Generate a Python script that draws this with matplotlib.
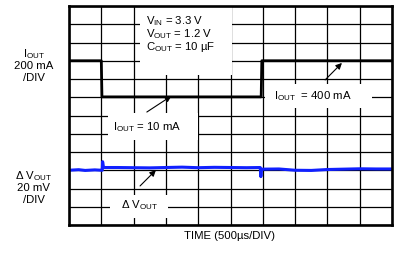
"""
Load transient scope capture: I_OUT step and Delta V_OUT
"""

import matplotlib
matplotlib.use("Agg")
import matplotlib.pyplot as plt
from matplotlib.patches import Rectangle

plt.rcParams["font.family"] = ["Liberation Sans", "DejaVu Sans"]
plt.rcParams["mathtext.default"] = "regular"

# ----------------------------------------------------
# Data (divisions: x 0..10, y 0..12)
# ----------------------------------------------------

t_iout = [0.0, 1.0, 1.02, 5.95, 5.97, 10.0]
iout = [9.0, 9.0, 7.02, 7.02, 9.0, 9.0]

t_vout = [0.0, 0.3, 0.5, 0.8, 1.0, 1.03, 1.04, 1.07, 1.5, 2.0, 2.5,
          3.0, 3.5, 4.0, 4.5, 5.0, 5.5, 5.92, 5.94, 5.96, 6.0, 6.5,
          7.0, 7.5, 8.0, 8.5, 9.0, 9.5, 10.0]
vout = [3.0, 3.03, 2.99, 3.02, 3.0, 3.0, 3.47, 3.15, 3.15, 3.14, 3.13,
        3.15, 3.17, 3.14, 3.16, 3.15, 3.14, 3.15, 2.65, 3.05, 3.06, 3.07,
        3.0, 2.99, 3.04, 3.06, 3.08, 3.07, 3.07]

n_xdiv = 10
n_ydiv = 12

# ----------------------------------------------------
# Figure
# ----------------------------------------------------

fig = plt.figure(figsize=(4.06, 2.66), dpi=100)
ax = fig.add_axes([69 / 406, 41 / 266, 323 / 406, 219 / 266])

ax.set_xlim(0, n_xdiv)
ax.set_ylim(0, n_ydiv)
ax.set_xticks(range(n_xdiv + 1))
ax.set_yticks(range(n_ydiv + 1))
ax.tick_params(length=0, labelbottom=False, labelleft=False)
ax.set_axisbelow(True)
ax.grid(color="black", lw=0.9)

for s in ax.spines.values():
    s.set_linewidth(1.9)
    s.set_zorder(5)

# white boxes behind the labels
boxes = [
    (2.2, 8.22, 2.85, 3.78),
    (1.21, 4.66, 2.79, 1.48),
    (6.07, 6.41, 3.31, 1.32),
    (1.27, 0.38, 1.8, 1.26),
]
for x0, y0, w, h in boxes:
    ax.add_patch(Rectangle((x0, y0), w, h, facecolor="white",
                           edgecolor="none", zorder=1))

# ----------------------------------------------------
# Traces
# ----------------------------------------------------

ax.plot(t_iout, iout, color="black", lw=2.0, zorder=3)
ax.plot(t_vout, vout, color="#1020ff", lw=2.2, zorder=3)

# ----------------------------------------------------
# Annotations
# ----------------------------------------------------

fs = 8.2

ax.text(2.38, 11.15, "$V_{IN}$ = 3.3 V", fontsize=fs, va="center", zorder=4)
ax.text(2.38, 10.44, "$V_{OUT}$ = 1.2 V", fontsize=fs, va="center", zorder=4)
ax.text(2.38, 9.73, "$C_{OUT}$ = 10 µF", fontsize=fs, va="center", zorder=4)

ax.text(2.43, 5.37, "$I_{OUT}$ = 10 mA", fontsize=fs,
        ha="center", va="center", zorder=4)
ax.text(7.55, 7.07, "$I_{OUT}$  = 400 mA", fontsize=fs,
        ha="center", va="center", zorder=4)
ax.text(2.18, 1.1, "Δ $V_{OUT}$", fontsize=fs,
        ha="center", va="center", zorder=4)

arrows = [
    ((2.41, 6.19), (3.17, 7.07)),
    ((7.93, 7.95), (8.45, 8.88)),
    ((2.2, 2.14), (2.69, 3.01)),
]
for tail, head in arrows:
    ax.annotate("", xy=head, xytext=tail, zorder=4,
                arrowprops=dict(arrowstyle="-|>", color="black", lw=0.8,
                                mutation_scale=9, shrinkA=0, shrinkB=0))

# ----------------------------------------------------
# Side labels
# ----------------------------------------------------

for y, s in [(54, "$I_{OUT}$"), (66, "200 mA"), (78, "/DIV"),
             (176, "Δ $V_{OUT}$"), (188, "20 mV"), (200, "/DIV")]:
    fig.text(34 / 406, 1 - y / 266, s, fontsize=fs,
             ha="center", va="center")

fig.text(230 / 406, 1 - 236 / 266, "TIME (500µs/DIV)", fontsize=fs,
         ha="center", va="center")

plt.savefig("out.png", dpi=100)
plt.close()
